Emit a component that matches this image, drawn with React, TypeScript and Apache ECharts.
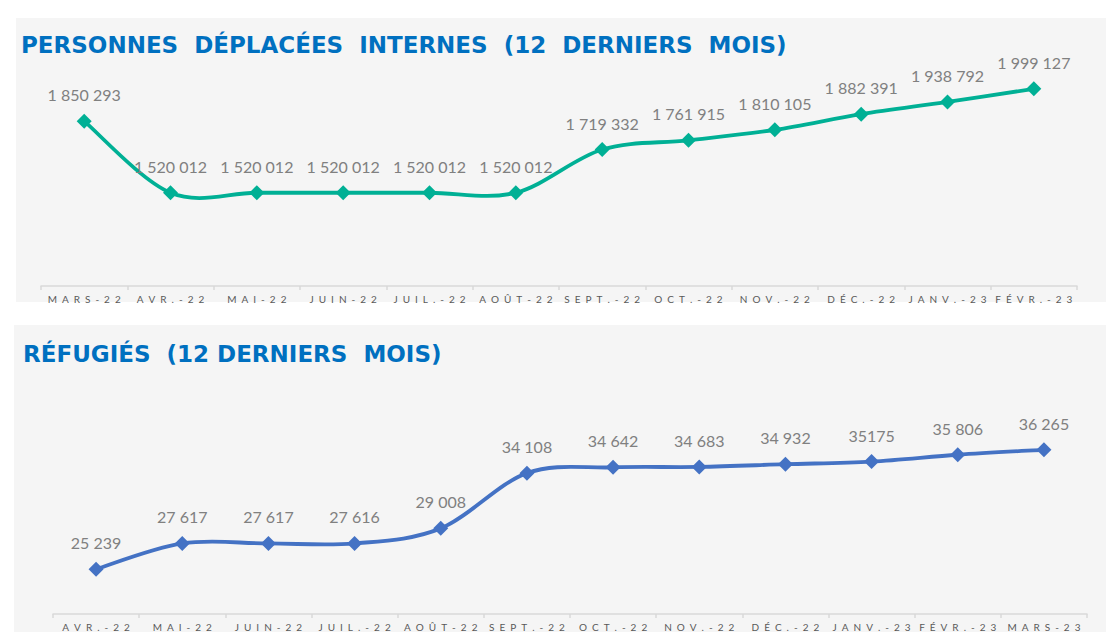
import React, { useEffect, useRef } from "react";
import * as echarts from "echarts";

const months1 = ["MARS-22", "AVR.-22", "MAI-22", "JUIN-22", "JUIL.-22", "AOÛT-22", "SEPT.-22", "OCT.-22", "NOV.-22", "DÉC.-22", "JANV.-23", "FÉVR.-23"];
const displaced = [1850293, 1520012, 1520012, 1520012, 1520012, 1520012, 1719332, 1761915, 1810105, 1882391, 1938792, 1999127];

const months2 = ["AVR.-22", "MAI-22", "JUIN-22", "JUIL.-22", "AOÛT-22", "SEPT.-22", "OCT.-22", "NOV.-22", "DÉC.-22", "JANV.-23", "FÉVR.-23", "MARS-23"];
const refugees = [25239, 27617, 27617, 27616, 29008, 34108, 34642, 34683, 34932, 35175, 35806, 36265];
// In the source, the JANV.-23 refugee label is printed without a thousands separator
const refugeesUnseparated = [9];

const title1 = "PERSONNES  DÉPLACÉES  INTERNES  (12  DERNIERS  MOIS)";
const title2 = "RÉFUGIÉS  (12 DERNIERS  MOIS)";

const fmt = (v: number) => String(v).replace(/\B(?=(\d{3})+(?!\d))/g, " ");
const spaced = (s: string) => s.split("").join("\u2002");

// Excel-like smoothed line (Catmull-Rom through the points), drawn with the axes' own scales
const smoothLine = (vals: number[], color: string, xAxisIndex: number, yAxisIndex: number) => ({
  type: "custom" as const,
  xAxisIndex,
  yAxisIndex,
  z: 1,
  silent: true,
  data: vals.map((v, i) => [i, v]),
  encode: { x: 0, y: 1 },
  renderItem: (params: any, api: any) => {
    const i = params.dataIndex;
    const n = vals.length;
    if (i >= n - 1) return null;
    const c = (k: number) => Math.max(0, Math.min(n - 1, k));
    const p = (k: number) => api.coord([c(k), vals[c(k)]]);
    const P0 = p(i - 1), P1 = p(i), P2 = p(i + 1), P3 = p(i + 2);
    const c1 = [P1[0] + (P2[0] - P0[0]) / 6, P1[1] + (P2[1] - P0[1]) / 6];
    const c2 = [P2[0] - (P3[0] - P1[0]) / 6, P2[1] - (P3[1] - P1[1]) / 6];
    return {
      type: "path",
      shape: {
        pathData: `M${P1[0]},${P1[1]} C${c1[0]},${c1[1]} ${c2[0]},${c2[1]} ${P2[0]},${P2[1]}`,
      },
      style: { stroke: color, lineWidth: 3.8, fill: "none", lineCap: "round" },
    };
  },
});

export default function App() {
  const ref = useRef<HTMLDivElement>(null);
  useEffect(() => {
    const chart = echarts.init(ref.current!, undefined, { renderer: "svg" });
    const axisCommon = (data: string[], gridIndex: number) => ({
      type: "category" as const,
      gridIndex,
      data,
      boundaryGap: true,
      axisLine: { lineStyle: { color: "#d9d9d9", width: 1.5 } },
      axisTick: { show: true, length: 4, lineStyle: { color: "#d9d9d9", width: 1.5 } },
      axisLabel: {
        interval: 0,
        margin: 8,
        fontSize: 10,
        fontFamily: "Lato",
        color: "#595959",
        formatter: (v: string) => spaced(v),
      },
      splitLine: { show: false },
    });
    const labelCommon = {
      show: true,
      position: "top" as const,
      distance: 11,
      fontFamily: "Lato",
      fontSize: 16,
      color: "#808080",
    };
    const teal = "#00b095";
    const blue = "#4472c4";
    chart.setOption({
      animation: false,
      backgroundColor: "#ffffff",
      graphic: [
        { type: "rect", z: -10, shape: { x: 16, y: 18, width: 1090, height: 284 }, style: { fill: "#f5f5f5" } },
        { type: "rect", z: -10, shape: { x: 14, y: 325, width: 1092, height: 307 }, style: { fill: "#f5f5f5" } },
        {
          type: "text",
          x: 21,
          y: 45,
          style: { text: title1, fill: "#0070c0", font: "bold 23px 'DejaVu Sans'", verticalAlign: "middle" },
        },
        {
          type: "text",
          x: 23,
          y: 354,
          style: { text: title2, fill: "#0070c0", font: "bold 23px 'DejaVu Sans'", verticalAlign: "middle" },
        },
      ],
      grid: [
        { left: 41, right: 31, top: 67, height: 219 },
        { left: 53, right: 21, top: 431, height: 183 },
      ],
      xAxis: [axisCommon(months1, 0), axisCommon(months2, 1)],
      yAxis: [
        { type: "value", gridIndex: 0, min: 1090000, max: 2100000, show: false },
        { type: "value", gridIndex: 1, min: 21100, max: 38000, show: false },
      ],
      series: [
        smoothLine(displaced, teal, 0, 0),
        {
          type: "line",
          xAxisIndex: 0,
          yAxisIndex: 0,
          z: 2,
          data: displaced,
          symbol: "diamond",
          symbolSize: 15,
          itemStyle: { color: teal },
          lineStyle: { width: 0, opacity: 0 },
          label: { ...labelCommon, formatter: (p: any) => fmt(p.value) },
        },
        smoothLine(refugees, blue, 1, 1),
        {
          type: "line",
          xAxisIndex: 1,
          yAxisIndex: 1,
          z: 2,
          data: refugees,
          symbol: "diamond",
          symbolSize: 15,
          itemStyle: { color: blue },
          lineStyle: { width: 0, opacity: 0 },
          label: {
            ...labelCommon,
            formatter: (p: any) =>
              refugeesUnseparated.includes(p.dataIndex) ? String(p.value) : fmt(p.value),
          },
        },
      ],
    });
    return () => chart.dispose();
  }, []);
  return <div ref={ref} style={{ position: "fixed", left: 0, top: 0, width: 1108, height: 632 }} />;
}
